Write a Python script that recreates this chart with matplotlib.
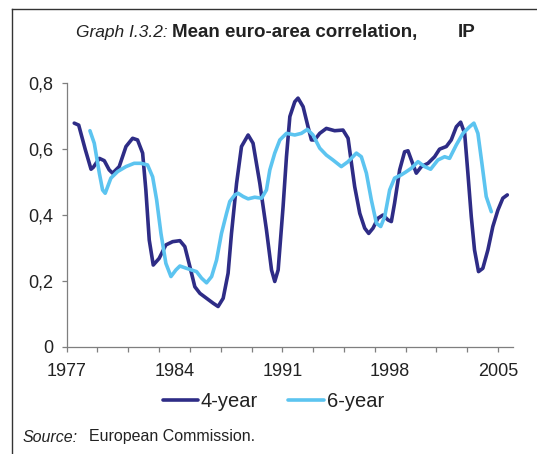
import matplotlib
matplotlib.use("Agg")
import matplotlib.pyplot as plt
from matplotlib.lines import Line2D

# ---- data ----
years_4y = [1977.49, 1977.78, 1978.2, 1978.58, 1978.73, 1979.12, 1979.44, 1979.76, 1979.98,
            1980.41, 1980.85, 1981.28, 1981.6, 1981.93, 1982.14, 1982.36, 1982.62, 1983.0,
            1983.44, 1983.88, 1984.35, 1984.67, 1985.0, 1985.32, 1985.65, 1986.08, 1986.51,
            1986.83, 1987.16, 1987.48, 1987.70, 1988.03, 1988.35, 1988.78, 1989.1, 1989.54,
            1989.97, 1990.30, 1990.51, 1990.73, 1991.05, 1991.27, 1991.49, 1991.81, 1992.02,
            1992.35, 1992.67, 1992.89, 1993.1, 1993.43, 1993.86, 1994.40, 1994.94, 1995.27,
            1995.49, 1995.70, 1996.03, 1996.35, 1996.61, 1996.89, 1997.21, 1997.54, 1997.86,
            1998.08, 1998.29, 1998.62, 1998.94, 1999.16, 1999.38, 1999.70, 2000.03, 2000.46,
            2000.89, 2001.21, 2001.65, 2001.97, 2002.30, 2002.58, 2002.84, 2003.05, 2003.27,
            2003.48, 2003.74, 2004.02, 2004.35, 2004.67, 2005.0, 2005.32, 2005.61]
vals_4y = [0.679, 0.673, 0.60, 0.539, 0.545, 0.572, 0.565, 0.537, 0.527,
           0.547, 0.608, 0.633, 0.628, 0.588, 0.476, 0.324, 0.248, 0.268,
           0.309, 0.319, 0.322, 0.304, 0.243, 0.182, 0.162, 0.147, 0.132,
           0.122, 0.147, 0.223, 0.344, 0.496, 0.608, 0.643, 0.618, 0.496,
           0.355, 0.233, 0.198, 0.233, 0.425, 0.577, 0.699, 0.744, 0.755,
           0.729, 0.668, 0.628, 0.628, 0.648, 0.663, 0.656, 0.658, 0.633,
           0.557, 0.486, 0.405, 0.360, 0.344, 0.360, 0.390, 0.400, 0.385,
           0.380, 0.436, 0.537, 0.592, 0.595, 0.567, 0.527, 0.547, 0.557,
           0.577, 0.600, 0.608, 0.628, 0.668, 0.682, 0.648, 0.527, 0.395,
           0.294, 0.228, 0.238, 0.294, 0.365, 0.415, 0.451, 0.461]

years_6y = [1978.51, 1978.79, 1979.12, 1979.33, 1979.5, 1979.66, 1979.87, 1980.31, 1980.85,
            1981.38, 1981.82, 1982.25, 1982.58, 1982.84, 1983.12, 1983.44, 1983.77, 1984.09,
            1984.35, 1984.78, 1985.43, 1985.76, 1986.08, 1986.41, 1986.73, 1987.05, 1987.38,
            1987.59, 1987.92, 1988.13, 1988.46, 1988.78, 1989.21, 1989.65, 1989.97, 1990.19,
            1990.51, 1990.84, 1991.27, 1991.81, 1992.24, 1992.63, 1992.99, 1993.43, 1993.86,
            1994.29, 1994.83, 1995.27, 1995.81, 1996.13, 1996.46, 1996.78, 1997.11, 1997.39,
            1997.65, 1997.97, 1998.29, 1998.73, 1999.0, 1999.38, 1999.81, 2000.24, 2000.63,
            2001.1, 2001.54, 2001.86, 2002.30, 2002.73, 2003.16, 2003.44, 2003.70, 2003.96,
            2004.24, 2004.57]
vals_6y = [0.656, 0.618, 0.527, 0.476, 0.466, 0.486, 0.512, 0.532, 0.547,
           0.557, 0.557, 0.552, 0.516, 0.446, 0.344, 0.253, 0.213, 0.233,
           0.245, 0.238, 0.228, 0.208, 0.194, 0.213, 0.263, 0.344, 0.405,
           0.441, 0.461, 0.466, 0.456, 0.449, 0.454, 0.451, 0.476, 0.537,
           0.588, 0.628, 0.648, 0.643, 0.648, 0.660, 0.643, 0.603, 0.582,
           0.567, 0.547, 0.562, 0.588, 0.577, 0.527, 0.446, 0.375, 0.365,
           0.395, 0.476, 0.512, 0.522, 0.530, 0.542, 0.562, 0.547, 0.539,
           0.567, 0.577, 0.572, 0.613, 0.648, 0.668, 0.679, 0.648, 0.557,
           0.456, 0.410]

tick_years = list(range(1977, 2006, 2))
label_years = [1977, 1984, 1991, 1998, 2005]
y_ticks = [0, 0.2, 0.4, 0.6, 0.8]
y_labels = ["0", "0,2", "0,4", "0,6", "0,8"]
series_names = ["4-year", "6-year"]

navy = "#2E2C86"
light = "#5CC4F0"
grey = "#7F7F7F"
txt = "#222222"

plt.rcParams['font.family'] = ['Liberation Sans', 'DejaVu Sans']

fig = plt.figure(figsize=(5.37, 4.54), dpi=100)
ax = fig.add_axes([0.1242, 0.2364, 0.9559 - 0.1242, 0.8165 - 0.2364])

ax.plot(years_4y, vals_4y, color=navy, lw=2.6, solid_capstyle='round',
        solid_joinstyle='round', label=series_names[0])
ax.plot(years_6y, vals_6y, color=light, lw=2.6, solid_capstyle='round',
        solid_joinstyle='round', label=series_names[1])

ax.set_xlim(1977, 2006)
ax.set_ylim(0, 0.8)

for s in ['top', 'right']:
    ax.spines[s].set_visible(False)
for s in ['left', 'bottom']:
    ax.spines[s].set_color(grey)
    ax.spines[s].set_linewidth(0.9)

ax.set_yticks(y_ticks)
ax.set_yticklabels(y_labels)
ax.tick_params(axis='y', direction='out', length=3.6, width=0.9, color=grey,
               labelsize=13, labelcolor=txt, pad=6)

ax.xaxis.remove_overlapping_locs = False
ax.set_xticks(tick_years)
ax.set_xticklabels([])
ax.tick_params(axis='x', which='major', direction='out', length=3.6, width=0.9, color=grey)
ax.set_xticks(label_years, minor=True)
ax.set_xticklabels([str(y) for y in label_years], minor=True)
ax.tick_params(axis='x', which='minor', length=0, labelsize=13, labelcolor=txt, pad=12)

fig.legend(loc='center', bbox_to_anchor=(0.509, 0.1152), ncol=2, frameon=False,
           fontsize=14.5, handlelength=1.75, handletextpad=0.15, columnspacing=1.5,
           labelcolor=txt)

# title
fig.text(168 / 537, 1 - 37 / 454, "Graph I.3.2:", ha='right', va='baseline',
         fontsize=12.5, style='italic', color=txt)
fig.text(172 / 537, 1 - 37 / 454, "Mean euro-area correlation,", ha='left', va='baseline',
         fontsize=13.5, fontweight='bold', color=txt)
fig.text(458 / 537, 1 - 37 / 454, "IP", ha='left', va='baseline',
         fontsize=13.5, fontweight='bold', color=txt)

# source
fig.text(23 / 537, 1 - 441.5 / 454, "Source:", ha='left', va='baseline',
         fontsize=11.5, style='italic', color=txt)
fig.text(89 / 537, 1 - 441.5 / 454, "European Commission.", ha='left', va='baseline',
         fontsize=11.5, color=txt)

# outer frame (partially visible)
fx = 12.3 / 537
fy = 1 - 9.3 / 454
fig.add_artist(Line2D([fx, fx], [0, fy], transform=fig.transFigure, color="#333333", lw=1.0))
fig.add_artist(Line2D([fx, 1], [fy, fy], transform=fig.transFigure, color="#333333", lw=1.0))

fig.savefig("out.png", dpi=100)
